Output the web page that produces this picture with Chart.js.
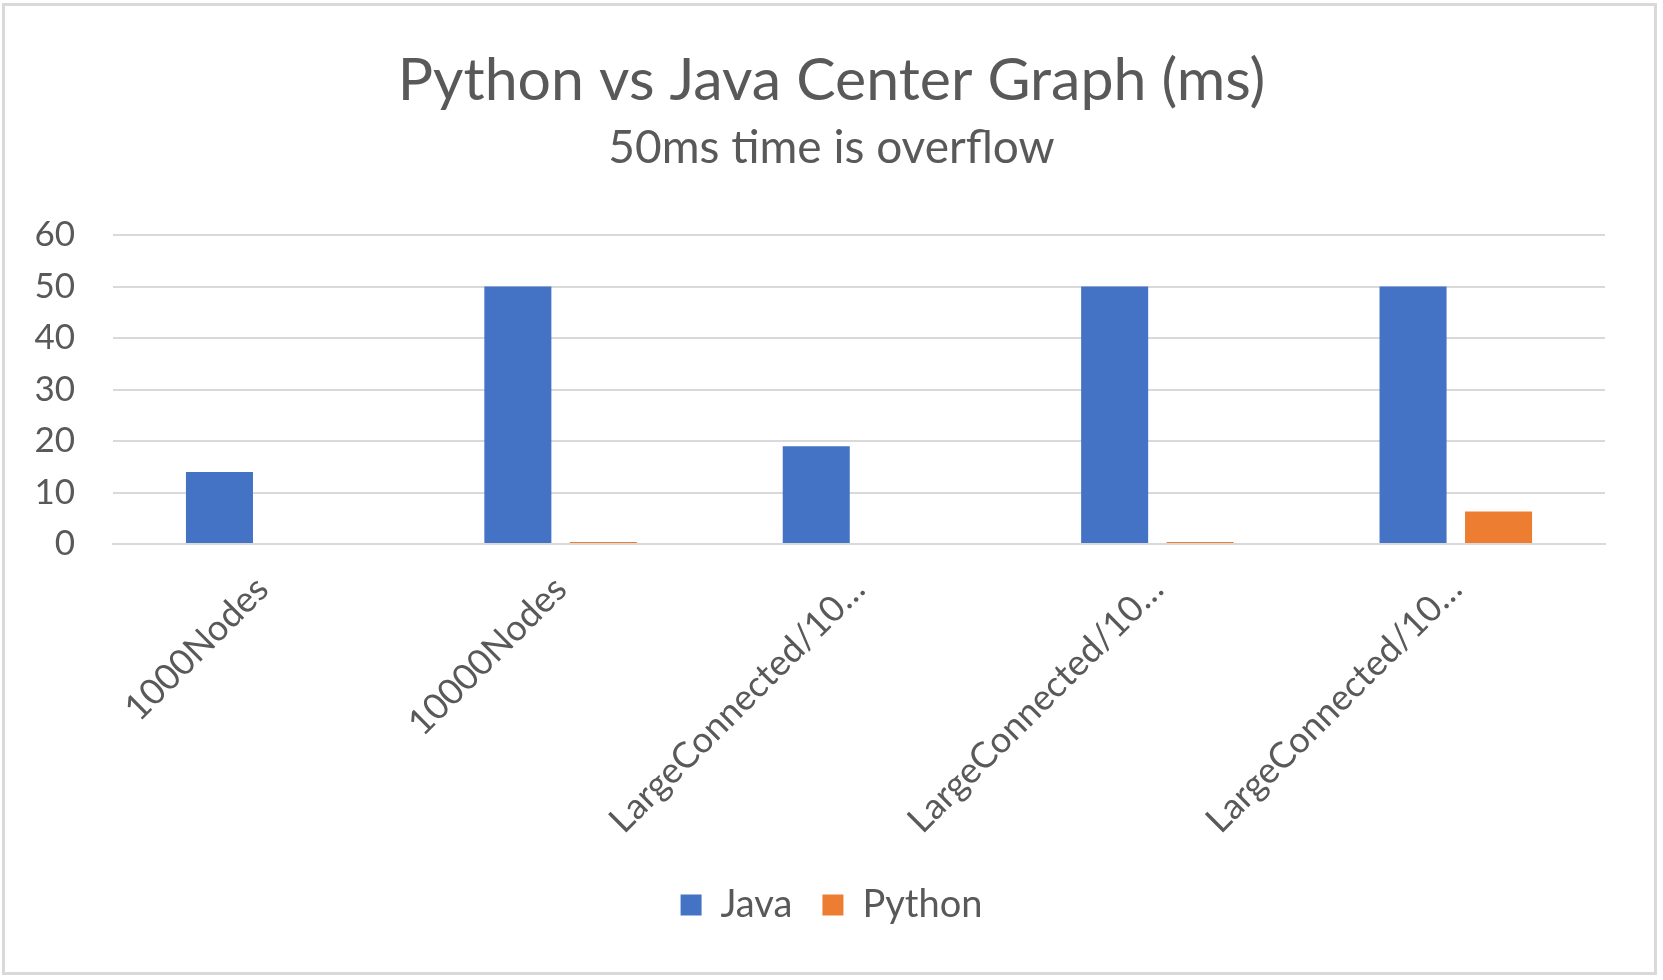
<!DOCTYPE html>
<html>
<head>
<meta charset="utf-8">
<script src="https://cdn.jsdelivr.net/npm/chart.js@4.4.0/dist/chart.umd.min.js"></script>
<style>
html,body{margin:0;padding:0;background:#fff;}
#wrap{position:relative;width:1663px;height:980px;}
</style>
</head>
<body>
<div id="wrap"><canvas id="c" width="1663" height="980"></canvas></div>
<script>
const categories = ["1000Nodes", "10000Nodes", "LargeConnected/10…", "LargeConnected/10…", "LargeConnected/10…"];
const javaValues = [14, 50, 19, 50, 50];
const pythonValues = [0, 0.4, 0, 0.4, 6.3];
const yTicks = [0, 10, 20, 30, 40, 50, 60];
const titleText = "Python vs Java Center Graph (ms)";
const subtitleText = "50ms time is overflow";

const TEXT = "#595959";
const FONT = "Lato";

const borderPlugin = {
  id: 'outerBorder',
  beforeDraw(chart) {
    const ctx = chart.ctx;
    ctx.save();
    ctx.fillStyle = '#ffffff';
    ctx.fillRect(0, 0, chart.width, chart.height);
    ctx.strokeStyle = '#d9d9d9';
    ctx.lineWidth = 3;
    ctx.strokeRect(3.5, 4.5, 1652, 969);
    ctx.restore();
  }
};

new Chart(document.getElementById('c'), {
  type: 'bar',
  data: {
    labels: categories,
    datasets: [
      { label: 'Java', data: javaValues, backgroundColor: '#4472C4', borderWidth: 0,
        categoryPercentage: 0.573, barPercentage: 0.784 },
      { label: 'Python', data: pythonValues, backgroundColor: '#ED7D31', borderWidth: 0,
        categoryPercentage: 0.573, barPercentage: 0.784 }
    ]
  },
  plugins: [borderPlugin],
  options: {
    responsive: false,
    animation: false,
    devicePixelRatio: 1,
    layout: { padding: { left: 0, right: 0, top: 0, bottom: 46 } },
    plugins: {
      title: {
        display: true, text: titleText, color: TEXT,
        font: { family: FONT, size: 59, weight: 'normal' },
        padding: { top: 46, bottom: 0 }
      },
      subtitle: {
        display: true, text: subtitleText, color: TEXT,
        font: { family: FONT, size: 46, weight: 'normal' },
        padding: { top: 4, bottom: 59 }
      },
      legend: {
        position: 'bottom',
        labels: {
          color: TEXT, font: { family: FONT, size: 38 },
          boxWidth: 21, boxHeight: 21, padding: 30
        }
      },
      tooltip: { enabled: false }
    },
    scales: {
      x: {
        grid: { display: false, drawTicks: false },
        border: { display: true, color: '#d9d9d9', width: 2 },
        ticks: {
          color: TEXT, font: { family: FONT, size: 36 },
          minRotation: 45, maxRotation: 45, autoSkip: false, padding: 24
        },
        afterFit(s) { s.height = 312; }
      },
      y: {
        min: 0, max: 60,
        grid: { color: '#d9d9d9', lineWidth: 2, drawTicks: false },
        border: { display: false },
        ticks: {
          color: TEXT, font: { family: FONT, size: 35 }, padding: 38,
          stepSize: 10,
          callback: (v) => yTicks.includes(v) ? String(v) : ''
        },
        afterFit(s) { s.width = 113; }
      },
      yRight: {
        position: 'right',
        display: true,
        grid: { display: false, drawTicks: false },
        border: { display: false },
        ticks: { display: false },
        afterFit(s) { s.width = 58; }
      }
    }
  }
});
</script>
</body>
</html>
